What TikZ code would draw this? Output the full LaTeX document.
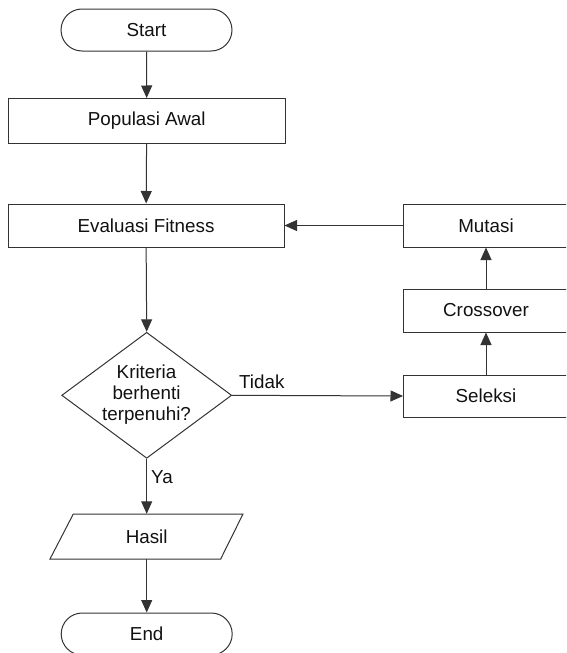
\documentclass[tikz,border=0pt]{standalone}
\usepackage{fontspec}
\setmainfont{Liberation Sans}
\usetikzlibrary{arrows.meta,shapes.geometric}
\definecolor{linec}{HTML}{333333}
\definecolor{textc}{HTML}{111111}
\tikzset{
  base/.style={font=\fontsize{18.8}{21}\selectfont, text=textc, inner sep=0pt},
  procbox/.style={base, draw=linec, line width=1pt, rectangle},
  termbox/.style={base, draw=linec, line width=1pt, rectangle, rounded corners=21pt, minimum width=171pt, minimum height=42pt},
  conn/.style={draw=linec, line width=1pt, -{Triangle[length=12.5pt,width=11pt]}},
  plain/.style={draw=linec, line width=1pt},
  lbl/.style={base, anchor=base west}
}
\begin{document}
\begin{tikzpicture}[x=1pt,y=-1pt]
\useasboundingbox (0,0) rectangle (566,653);
\clip (0,0) rectangle (566,653);
% terminators and process boxes
\node[termbox] (start) at (146.5,30) {Start};
\node[procbox, minimum width=276.5pt, minimum height=45pt] (pop) at (146.75,121) {Populasi Awal};
\node[procbox, minimum width=276pt, minimum height=43pt] (eval) at (146,225.5) {Evaluasi Fitness};
\node[procbox, minimum width=165pt, minimum height=43pt] (mut) at (486,225.5) {Mutasi};
\node[procbox, minimum width=165pt, minimum height=43pt] (cross) at (486,310.5) {Crossover};
\node[procbox, minimum width=165pt, minimum height=42pt] (sel) at (486,396) {Seleksi};
% decision
\node[diamond, draw=linec, line width=1pt, inner sep=0pt, minimum width=170pt, minimum height=126pt] (dec) at (146.7,395.3) {};
\node[base, align=center] (dectext) at (146.5,394.5) {Kriteria\\berhenti\\terpenuhi?};
% output parallelogram
\node[base, minimum width=170pt, minimum height=45pt] (hasil) at (146.7,536.5) {Hasil};
\draw[plain] (73.3,514) -- (243,514) -- (220.7,559) -- (50,559) -- cycle;
% end
\node[termbox] (end) at (146.7,634) {End};
% connectors
\draw[conn] (start) -- (pop);
\draw[conn] (pop) -- (eval);
\draw[conn] (eval) -- (dec.north);
\draw[conn] (dec.east) -- (sel.west);
\draw[conn] (sel) -- (cross);
\draw[conn] (cross) -- (mut);
\draw[conn] (mut) -- (eval);
\draw[conn] (dec.south) -- (hasil.north);
\draw[conn] (hasil.south) -- (end.north);
% labels
\node[lbl] (tidak) at (239,388) {Tidak};
\node[lbl] (ya) at (151,483) {Ya};
\end{tikzpicture}
\end{document}
